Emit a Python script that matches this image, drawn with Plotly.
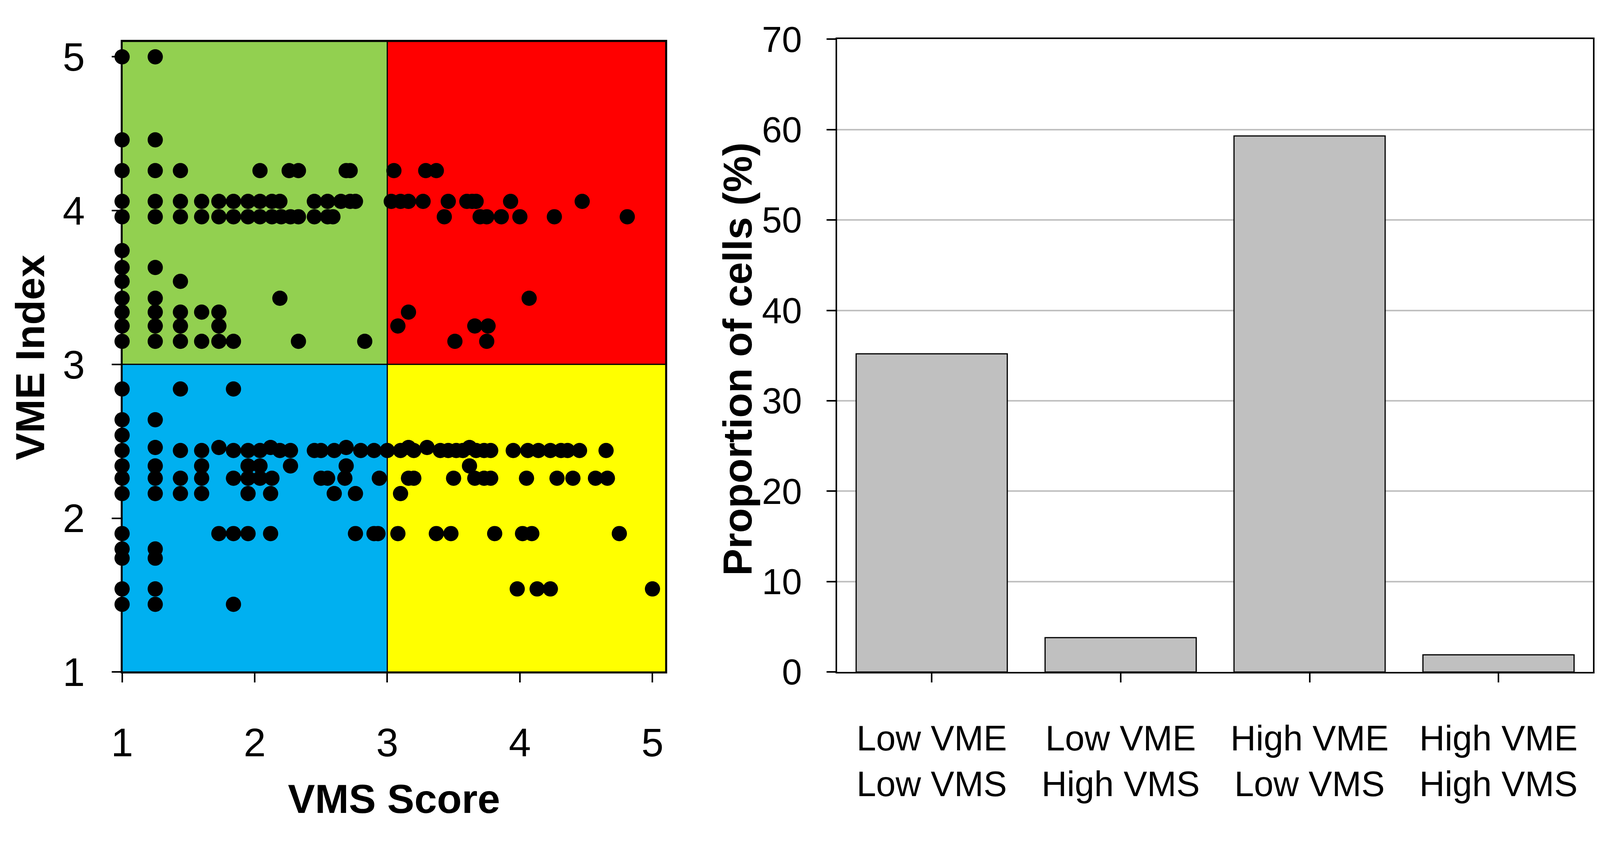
"""
VME index vs VMS score, with the share of cells in each quadrant.
Two panels: quadrant scatter on the left, bar chart on the right.
"""

import plotly.graph_objects as go

# ── Data ─────────────────────────────────────────────────────────────────────
# VME index levels (rows of points) and the VMS scores found on each row
vme_levels = [
    5.00, 4.46, 4.26, 4.06, 3.96, 3.74, 3.63, 3.54, 3.43, 3.34, 3.25, 3.15,
    2.84, 2.64, 2.54, 2.46, 2.44, 2.34, 2.26, 2.16, 1.90, 1.80, 1.74, 1.54, 1.44,
]
vms_on_level = [
    [1.00, 1.25],
    [1.00, 1.25],
    [1.00, 1.25, 1.44, 2.04, 2.26, 2.33, 2.69, 2.72, 3.05, 3.29, 3.37],
    [1.00, 1.25, 1.44, 1.60, 1.73, 1.84, 1.95, 2.04, 2.13, 2.19, 2.45, 2.55,
     2.65, 2.72, 2.76, 3.03, 3.10, 3.16, 3.27, 3.46, 3.60, 3.64, 3.67, 3.93, 4.47],
    [1.00, 1.25, 1.44, 1.60, 1.73, 1.84, 1.95, 2.04, 2.13, 2.20, 2.27, 2.33,
     2.45, 2.55, 2.59, 3.43, 3.70, 3.75, 3.86, 4.00, 4.26, 4.81],
    [1.00],
    [1.00, 1.25],
    [1.00, 1.44],
    [1.00, 1.25, 2.19, 4.07],
    [1.00, 1.25, 1.44, 1.60, 1.73, 3.16],
    [1.00, 1.25, 1.44, 1.73, 3.08, 3.66, 3.76],
    [1.00, 1.25, 1.44, 1.60, 1.73, 1.84, 2.33, 2.83, 3.51, 3.75],
    [1.00, 1.44, 1.84],
    [1.00, 1.25],
    [1.00],
    [1.25, 1.73, 2.12, 2.69, 3.16, 3.30, 3.62],
    [1.00, 1.44, 1.60, 1.84, 1.95, 2.04, 2.19, 2.27, 2.45, 2.50, 2.60, 2.80,
     2.90, 3.00, 3.10, 3.20, 3.40, 3.46, 3.52, 3.57, 3.67, 3.73, 3.78, 3.95,
     4.06, 4.14, 4.23, 4.31, 4.36, 4.45, 4.65],
    [1.00, 1.25, 1.60, 1.95, 2.04, 2.27, 2.69, 3.62],
    [1.00, 1.25, 1.44, 1.60, 1.84, 1.95, 2.04, 2.13, 2.50, 2.55, 2.68, 2.94,
     3.16, 3.20, 3.50, 3.66, 3.73, 3.78, 4.05, 4.28, 4.40, 4.57, 4.66],
    [1.00, 1.25, 1.44, 1.60, 1.95, 2.12, 2.60, 2.76, 3.10],
    [1.00, 1.73, 1.84, 1.95, 2.12, 2.76, 2.90, 2.93, 3.08, 3.37, 3.48, 3.81,
     4.02, 4.09, 4.75],
    [1.00, 1.25],
    [1.00, 1.25],
    [1.00, 1.25, 3.98, 4.13, 4.23, 5.00],
    [1.00, 1.25, 1.84],
]

vms_ticks = [1, 2, 3, 4, 5]
vme_ticks = [1, 2, 3, 4, 5]
VMS_CUT, VME_CUT = 3, 3      # low / high thresholds
SCORE_MAX = 5.1

categories = [
    "Low VME<br>Low VMS",
    "Low VME<br>High VMS",
    "High VME<br>Low VMS",
    "High VME<br>High VMS",
]
proportion = [35.2, 3.8, 59.3, 1.9]
prop_ticks = [0, 10, 20, 30, 40, 50, 60, 70]

# flatten the rows into point lists
vms_score, vme_index = [], []
for level, row in zip(vme_levels, vms_on_level):
    for v in row:
        vms_score.append(v)
        vme_index.append(level)

# ── Colours / sizes ──────────────────────────────────────────────────────────
GREEN, RED, BLUE, YELLOW = "#92D050", "#FF0000", "#00B0F0", "#FFFF00"
BAR_GREY, GRID_GREY = "#C0C0C0", "#C0C0C0"
FONT = "Liberation Sans, Arial, sans-serif"

# positions below are measured on the 4975 x 2158 original
REF_W, REF_H = 4975, 2158
# the browser page is at most 4096 px wide, so draw at that size
W, H = 4096, 2158


def fx(px):
    return px / REF_W


def fy(px):
    return 1 - px / REF_H


fig = go.Figure()

fig.add_trace(go.Scatter(
    x=vms_score, y=vme_index,
    mode="markers",
    marker=dict(size=39, color="black", line=dict(width=0)),
    cliponaxis=False,
    xaxis="x", yaxis="y",
    hovertemplate="VMS %{x}<br>VME %{y}<extra></extra>",
))

fig.add_trace(go.Bar(
    x=categories, y=proportion,
    width=0.8,
    marker=dict(color=BAR_GREY, line=dict(color="black", width=3)),
    xaxis="x2", yaxis="y2",
    hovertemplate="%{y}%<extra></extra>",
))

# quadrant backgrounds
quads = [
    (1, VMS_CUT, VME_CUT, SCORE_MAX, GREEN),
    (VMS_CUT, SCORE_MAX, VME_CUT, SCORE_MAX, RED),
    (1, VMS_CUT, 1, VME_CUT, BLUE),
    (VMS_CUT, SCORE_MAX, 1, VME_CUT, YELLOW),
]
shapes = [
    dict(type="rect", xref="x", yref="y", x0=a, x1=b, y0=c, y1=d,
         fillcolor=col, line=dict(color="black", width=3), layer="below")
    for a, b, c, d, col in quads
]

axis_common = dict(
    showline=True, linecolor="black", linewidth=4, mirror=True,
    ticks="outside", ticklen=23, tickwidth=4, tickcolor="black",
    showgrid=False, zeroline=False,
)

fig.update_layout(
    width=W, height=H,
    margin=dict(l=0, r=0, t=0, b=0),
    paper_bgcolor="white", plot_bgcolor="white",
    font=dict(family=FONT, color="black"),
    showlegend=False,
    xaxis=dict(
        domain=[fx(348), fx(2050)], anchor="y",
        range=[1, SCORE_MAX], tickvals=vms_ticks,
        tickfont=dict(size=102), ticklabelstandoff=66,
        **axis_common,
    ),
    yaxis=dict(
        domain=[fy(1758), fy(58)], anchor="x",
        range=[1, SCORE_MAX], tickvals=vme_ticks,
        tickfont=dict(size=102), ticklabelstandoff=48,
        **axis_common,
    ),
    xaxis2=dict(
        domain=[fx(2587), fx(4953)], anchor="y2",
        type="category", range=[-0.5, 3.5],
        tickfont=dict(size=90), ticklabelstandoff=66,
        **axis_common,
    ),
    yaxis2=dict(
        domain=[fy(1758), fy(52)], anchor="x2",
        range=[0, 70], tickvals=prop_ticks,
        tickfont=dict(size=92), ticklabelstandoff=45,
        **{**axis_common, "showgrid": True},
        gridcolor=GRID_GREY, gridwidth=4,
    ),
    shapes=shapes,
    annotations=[
        dict(text="<b>VMS Score</b>", xref="paper", yref="paper",
             x=fx(1199), y=fy(2100), xanchor="center", yanchor="middle",
             showarrow=False, font=dict(size=104)),
        dict(text="<b>VME Index</b>", xref="paper", yref="paper",
             x=fx(60), y=fy(910), xanchor="center", yanchor="middle",
             textangle=-90, showarrow=False, font=dict(size=104)),
        dict(text="<b>Proportion of cells (%)</b>", xref="paper", yref="paper",
             x=fx(2275), y=fy(915), xanchor="center", yanchor="middle",
             textangle=-90, showarrow=False, font=dict(size=104)),
    ],
)

fig.write_html(
    "out.html",
    config={"displayModeBar": False},
    post_script="document.body.style.margin='0';document.body.style.overflow='hidden';",
)
